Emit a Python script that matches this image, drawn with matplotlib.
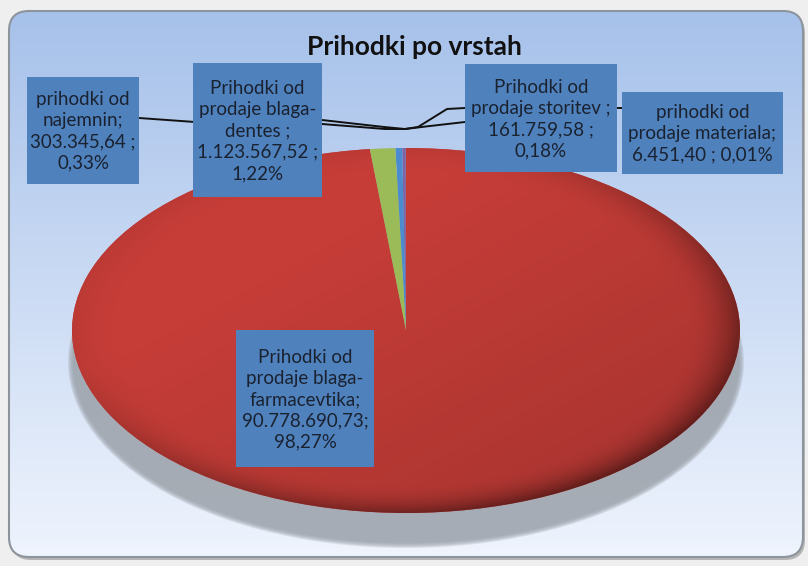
import numpy as np
import matplotlib.pyplot as plt
from matplotlib.patches import FancyBboxPatch, Rectangle, Ellipse

plt.rcParams['font.family'] = ['Lato', 'DejaVu Sans']

# data
names = ["prihodki od\nnajemnin;",
         "Prihodki od\nprodaje blaga-\ndentes ;",
         "Prihodki od\nprodaje storitev ;",
         "prihodki od\nprodaje materiala;",
         "Prihodki od\nprodaje blaga-\nfarmacevtika;"]
values = [303345.64, 1123567.52, 161759.58, 6451.40, 90778690.73]
colors = ["#4a8ccf", "#9bbb59", "#8064a2", "#4bacc6", "#c0504d"]

total = sum(values)
pcts = [v / total * 100 for v in values]


def eu(v):
    s = f"{v:,.2f}"
    return s.replace(",", " ").replace(".", ",").replace(" ", ".")


def pc(p):
    return f"{p:.2f}".replace(".", ",") + "%"


labels = [
    names[0] + "\n" + eu(values[0]) + " ;\n" + pc(pcts[0]),
    names[1] + "\n" + eu(values[1]) + " ;\n" + pc(pcts[1]),
    names[2] + "\n" + eu(values[2]) + " ;\n" + pc(pcts[2]),
    names[3] + "\n" + eu(values[3]) + " ; " + pc(pcts[3]),
    names[4] + "\n" + eu(values[4]) + ";\n" + pc(pcts[4]),
]

# box rectangles in pixels (x0, y0, x1, y1)
boxes = [(27, 77, 139, 184), (193, 63, 322, 197), (465, 64, 617, 172),
         (622, 92, 783, 174), (236, 330, 374, 467)]

W, H = 808, 566
fig = plt.figure(figsize=(W / 100, H / 100), dpi=100)
fig.patch.set_facecolor("#efefef")

ax = fig.add_axes([0, 0, 1, 1])
ax.set_xlim(0, W)
ax.set_ylim(H, 0)
ax.axis("off")

# panel with gradient
shadow_panel = FancyBboxPatch((11, 14), 794, 546, boxstyle="round,pad=0,rounding_size=20",
                              facecolor="#b5b5b5", edgecolor="none", zorder=0)
ax.add_patch(shadow_panel)
panel = FancyBboxPatch((9, 11), 794, 546, boxstyle="round,pad=0,rounding_size=20",
                       facecolor="none", edgecolor="#8d949c", linewidth=1.5, zorder=2)
ax.add_patch(panel)
top = np.array([0xa6, 0xc1, 0xea]) / 255
bot = np.array([0xef, 0xf4, 0xfd]) / 255
t = np.linspace(0, 1, 256)[:, None, None]
grad = top * (1 - t) + bot * t
grad = np.repeat(grad, 2, axis=1)
im = ax.imshow(grad, extent=(9, 803, 557, 11), aspect="auto", zorder=1)
im.set_clip_path(panel)

# pie shadow
for k in range(6):
    ax.add_patch(Ellipse((406, 362), 676 - k * 2, 372 - k * 2,
                         facecolor="#9aa0a8", edgecolor="none", alpha=0.25, zorder=3))

# pie as an ellipse in its own axes
pax = fig.add_axes([72 / W, 1 - 513 / H, 668 / W, 365 / H])
order = [3, 2, 0, 1, 4]
wedges, _ = pax.pie([values[i] for i in order], colors=[colors[i] for i in order],
                    startangle=90, counterclock=True, radius=1,
                    wedgeprops=dict(linewidth=0))
pax.set_aspect("auto")
pax.set_xlim(-1, 1)
pax.set_ylim(-1, 1)
pax.axis("off")
pax.patch.set_alpha(0)

# shading on the big slice
u, v = np.meshgrid(np.linspace(-1, 1, 400), np.linspace(1, -1, 400))
r = np.sqrt(u ** 2 + v ** 2)
base = np.array([0.78, 0.24, 0.22])
side = np.clip((u - v) / 2.2 + 0.35, 0, 1)
rim = np.clip((r - 0.84) / 0.16, 0, 1) ** 2
d = 0.14 * side + 0.38 * rim * (0.15 + 0.85 * side)
shade = base[None, None, :] * (1 - d[..., None])
sim = pax.imshow(np.clip(shade, 0, 1), extent=(-1, 1, -1, 1), aspect="auto", zorder=2)
sim.set_clip_path(wedges[-1])
for w in wedges[:-1]:
    w.set_zorder(3)

# overlay for title, leader lines and labels
oax = fig.add_axes([0, 0, 1, 1])
oax.set_xlim(0, W)
oax.set_ylim(H, 0)
oax.axis("off")
oax.patch.set_alpha(0)

oax.text(414, 47, "Prihodki po vrstah", ha="center", va="center",
         fontsize=19, fontweight="bold", color="#111111")

conv = (405, 129)
lines = [
    [(139, 118), (195, 122), (322, 124), (385, 129), conv],
    [(322, 120), (384, 127), conv],
    [(465, 108), (447, 109), (418, 127), conv],
    [(465, 122), (430, 126), conv],
    [(622, 108), (617, 108)],
]
for pts in lines:
    xs, ys = zip(*pts)
    oax.plot(xs, ys, color="#111111", lw=1.4, zorder=6, solid_capstyle="butt")

for i, (x0, y0, x1, y1) in enumerate(boxes):
    oax.add_patch(Rectangle((x0, y0), x1 - x0, y1 - y0, facecolor="#4f81bd",
                            edgecolor="none", zorder=7))
    oax.text((x0 + x1) / 2, (y0 + y1) / 2 + 1, labels[i], ha="center", va="center",
             fontsize=13.5, color="#1a2230", linespacing=1.3, zorder=8)

fig.savefig("out.png", dpi=100, facecolor=fig.get_facecolor())
